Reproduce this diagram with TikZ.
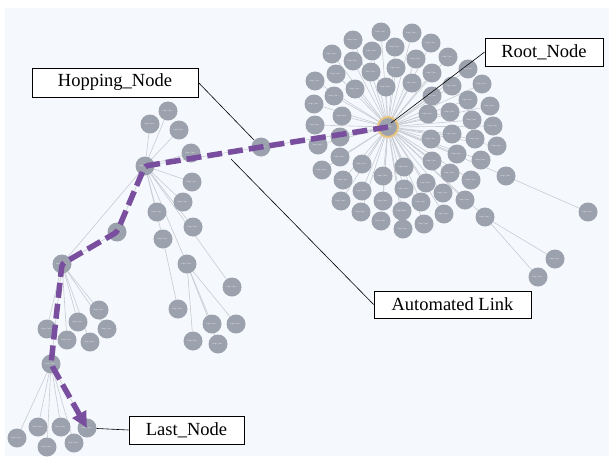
\documentclass[tikz,border=0pt]{standalone}
\usepackage{fontspec}
\setmainfont{Liberation Serif}
\usetikzlibrary{arrows.meta}
\definecolor{bgc}{HTML}{F5F8FC}
\definecolor{nodegray}{HTML}{9CA2AD}
\definecolor{edgegray}{HTML}{C8CCD2}
\definecolor{pathpurple}{HTML}{7A4E9E}
\definecolor{ringgold}{HTML}{E6C47E}
\pgfdeclarelayer{bglayer}
\pgfdeclarelayer{edgelayer}
\pgfdeclarelayer{toplayer}
\pgfsetlayers{bglayer,edgelayer,main,toplayer}
\tikzset{
  gn/.style={circle, fill=nodegray, minimum size=19pt, inner sep=0pt,
    font=\fontsize{2}{2}\selectfont\sffamily, text=white},
  ed/.style={draw=edgegray, line width=0.6pt},
  lbl/.style={draw=black, fill=white, line width=0.8pt,
    font=\fontsize{18.5}{18.5}\selectfont, inner sep=0pt},
  conn/.style={draw=black, line width=0.6pt},
  hoppath/.style={draw=pathpurple, line width=5.5pt, dash pattern=on 15pt off 6pt,
    rounded corners=3pt},
}
\newcommand{\ntx}{http://ser...}
\begin{document}
\begin{tikzpicture}[x=1pt,y=-1pt]
\useasboundingbox (0,0) rectangle (609,456);
\begin{pgfonlayer}{bglayer}
\fill[white] (0,0) rectangle (609,456);
\fill[bgc] (5,8) rectangle (609,456);
\end{pgfonlayer}

% ---------- root cluster ----------
\node[gn, minimum size=20pt, draw=ringgold, line width=2pt] (root) at (388,127) {\ntx};
\foreach \x/\y [count=\i] in {381/32,412/33,353/40,431/43,332/54,372/51,395/47,353/61,416/59,448/57,
  468/69,336/74,371/72,396/68,432/73,315/81,355/89,386/87,412/83,452/86,
  482/84,334/96,432/96,468/100,314/104,490/106,342/116,428/114,450/112,472/120,
  315/125,493/126,340/137,431/139,452/134,475/139,318/145,497/146,340/157,362/164,
  404/167,432/161,457/154,481/160,322/170,383/176,450/173,471/180,343/180,426/183,
  362/191,404/189,443/193,341/201,383/201,421/202,465/200,361/212,402/211,444/214,
  381/221,424/224,403/229}
  \node[gn] (c\i) at (\x,\y) {\ntx};
\node[gn] (o1) at (506,176) {\ntx};
\node[gn] (o2) at (588,212) {\ntx};
\node[gn] (o3) at (485,217) {\ntx};
\node[gn] (o4) at (555,259) {\ntx};
\node[gn] (o5) at (538,277) {\ntx};

% ---------- left tree ----------
\node[gn] (hop) at (261,147) {\ntx};
\node[gn] (ha) at (145,166) {\ntx};
\node[gn] (hx) at (117,232) {\ntx};
\node[gn] (hc) at (62,264) {\ntx};
\node[gn] (hd) at (51,364) {\ntx};
\node[gn] (hb) at (187,264) {\ntx};
\node[gn] (last) at (87,428) {\ntx};
\foreach \x/\y [count=\i] in {168/111,150/124,179/130,191/153,192/182,183/202,157/212,193/227,163/239,232/287}
  \node[gn] (a\i) at (\x,\y) {\ntx};
\node[gn] (a11) at (178,309) {\ntx};
\foreach \x/\y [count=\i] in {193/341,212/324,218/344,236/324}
  \node[gn] (b\i) at (\x,\y) {\ntx};
\foreach \x/\y [count=\i] in {47/329,67/340,78/322,90/342,99/310,107/329}
  \node[gn] (k\i) at (\x,\y) {\ntx};
\foreach \x/\y [count=\i] in {17/438,38/427,47/447,61/427,74/443}
  \node[gn] (d\i) at (\x,\y) {\ntx};

% ---------- edges ----------
\begin{pgfonlayer}{edgelayer}
\foreach \i in {1,...,63} \draw[ed] (root) -- (c\i);
\draw[ed] (root) -- (o1); \draw[ed] (o1) -- (o2);
\draw[ed] (root) -- (o3); \draw[ed] (o3) -- (o4); \draw[ed] (o3) -- (o5);
\draw[ed] (root) -- (hop); \draw[ed] (hop) -- (ha);
\foreach \i in {1,...,10} \draw[ed] (ha) -- (a\i);
\draw[ed] (ha) -- (hx); \draw[ed] (ha) -- (hc); \draw[ed] (ha) -- (hb);
\draw[ed] (hx) -- (hc);
\draw[ed] (a9) -- (a11);
\foreach \i in {1,...,4} \draw[ed] (hb) -- (b\i);
\foreach \i in {1,...,6} \draw[ed] (hc) -- (k\i);
\draw[ed] (hc) -- (hd);
\foreach \i in {1,...,5} \draw[ed] (hd) -- (d\i);
\draw[ed] (hd) -- (last);
\end{pgfonlayer}

% ---------- highlighted path, labels, connectors ----------
\begin{pgfonlayer}{toplayer}
\draw[hoppath, -{Triangle[length=16pt,width=15pt]}]
  (root.center) -- (hop.center) -- (ha.center) -- (hx.center) -- (hc.center)
  -- (hd.center) -- (last.center);

\node[lbl, minimum width=166pt, minimum height=29pt] (hl) at (115,82.5) {Hopping\_Node};
\node[lbl, minimum width=118pt, minimum height=28pt] (rl) at (544,52) {Root\_Node};
\node[lbl, minimum width=157pt, minimum height=27pt] (al) at (452.5,304.5) {Automated Link};
\node[lbl, minimum width=115pt, minimum height=28pt] (ll) at (186.5,430) {Last\_Node};

\coordinate (hpt) at (254,140);
\coordinate (rpt) at (391,123);
\coordinate (apt) at (231,159);
\draw[conn] (hl.east) -- (hpt);
\draw[conn] (rl.west) -- (rpt);
\draw[conn] (al.west) -- (apt);
\draw[conn] (ll.west) -- (last);
\end{pgfonlayer}
\end{tikzpicture}
\end{document}
